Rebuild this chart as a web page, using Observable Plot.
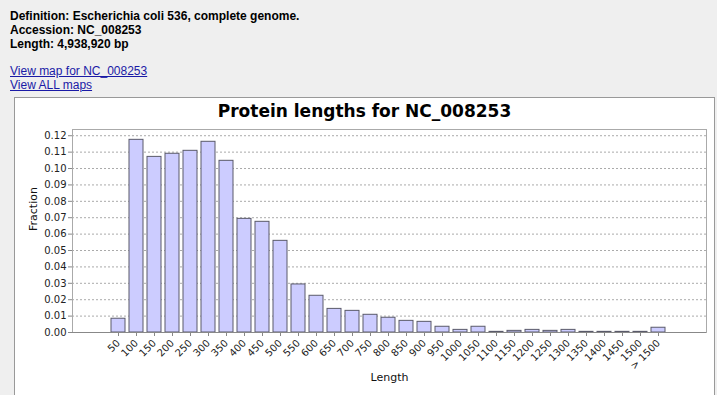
<!DOCTYPE html>
<html>
<head>
<meta charset="utf-8">
<script src="https://cdn.jsdelivr.net/npm/d3@7"></script>
<script src="https://cdn.jsdelivr.net/npm/@observablehq/plot@0.6"></script>
<style>
html, body { margin: 0; padding: 0; background: #efefef; width: 717px; height: 395px; overflow: hidden; }
#info { position: absolute; left: 10px; top: 9px; font: bold 12px "Liberation Sans", Arial, sans-serif; line-height: 14px; color: #000; }
#links { position: absolute; left: 10px; top: 64px; font: 12px "Liberation Sans", Arial, sans-serif; line-height: 14px; }
#links a { color: #1a1aa6; text-decoration: underline; display: block; }
#panel { position: absolute; left: 14px; top: 97px; width: 701px; height: 310px; background: #fff; border: 1px solid #999; box-sizing: border-box; }
#title { position: absolute; left: 14px; top: 101px; width: 701px; text-align: center; font: bold 17px "DejaVu Sans", sans-serif; line-height: 20px; color: #000; }
#chart { position: absolute; left: 14px; top: 120px; }
</style>
</head>
<body>
<div id="info">
  <div>Definition: Escherichia coli 536, complete genome.</div>
  <div>Accession: NC_008253</div>
  <div>Length: 4,938,920 bp</div>
</div>
<div id="links">
  <a href="#">View map for NC_008253</a>
  <a href="#">View ALL maps</a>
</div>
<div id="panel"></div>
<div id="title">Protein lengths for NC_008253</div>
<div id="chart"></div>
<script>
const lengths = ["50","100","150","200","250","300","350","400","450","500",
  "550","600","650","700","750","800","850","900","950","1000",
  "1050","1100","1150","1200","1250","1300","1350","1400","1450","1500","> 1500"];
const fractions = [0.0084, 0.1175, 0.1071, 0.1090, 0.1108, 0.1163, 0.1047, 0.0693, 0.0675, 0.0559,
  0.0293, 0.0224, 0.0144, 0.0132, 0.0108, 0.0090, 0.0071, 0.0065, 0.0035, 0.0016,
  0.0035, 0.0004, 0.0010, 0.0016, 0.0010, 0.0016, 0.0004, 0.0004, 0.0004, 0.0004, 0.0029];
const yTicks = [0, 0.01, 0.02, 0.03, 0.04, 0.05, 0.06, 0.07, 0.08, 0.09, 0.10, 0.11, 0.12];
const xLabel = "Length";
const yLabel = "Fraction";

const data = lengths.map((k, i) => ({length: k, fraction: fractions[i]}));

const chart = Plot.plot({
  width: 700,
  height: 275,
  marginLeft: 58,
  marginRight: 8,
  marginTop: 9,
  marginBottom: 63,
  style: {fontFamily: "DejaVu Sans, sans-serif", fontSize: "10px", color: "#222", background: "transparent", overflow: "visible"},
  x: {type: "band", domain: lengths, paddingInner: 0.2, paddingOuter: 0, insetLeft: 31, insetRight: 32, label: null},
  y: {domain: [0, 0.1238], label: null},
  marks: [
    Plot.gridY(yTicks, {stroke: "#aaa", strokeOpacity: 1, strokeDasharray: "2,2"}),
    Plot.frame({stroke: "#aaa"}),
    Plot.barY(data, {x: "length", y: "fraction", fill: "#ccccff", stroke: "#5a5a6a", strokeWidth: 1}),
    Plot.ruleX([0], {frameAnchor: "left", stroke: "#888"}),
    Plot.ruleY([0], {stroke: "#888"}),
    Plot.axisY(yTicks, {tickFormat: d => d.toFixed(2), tickSize: 4, tickPadding: 2, stroke: "#888", label: null}),
    Plot.axisX({tickRotate: -45, tickSize: 4, tickPadding: 5, stroke: "#888", label: null}),
    Plot.text([yLabel], {frameAnchor: "left", dx: -39.5, rotate: -90, fontSize: 11, fill: "#111"}),
    Plot.text([xLabel], {frameAnchor: "bottom", dy: 48, fontSize: 11, fill: "#111"})
  ]
});
document.getElementById("chart").appendChild(chart);
</script>
</body>
</html>
